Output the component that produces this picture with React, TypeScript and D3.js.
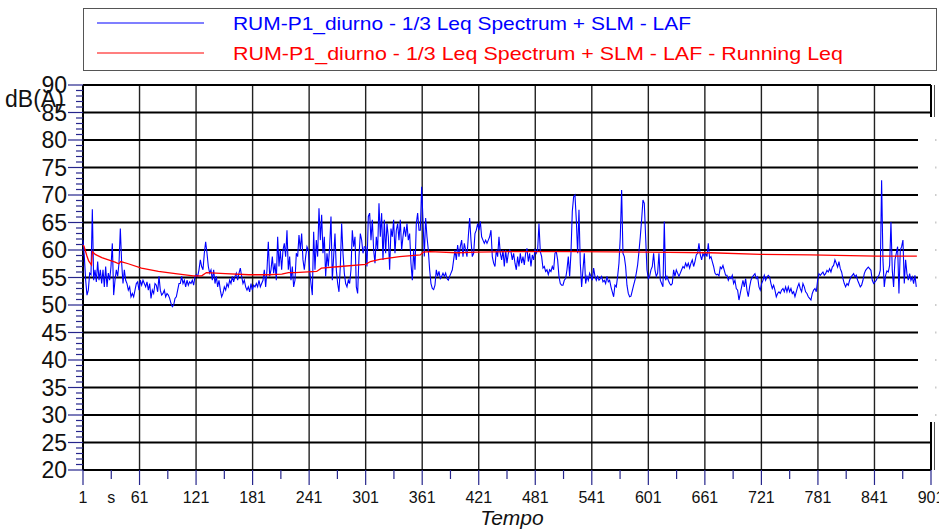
import React from "react";
import * as d3 from "d3";

// LAF samples, one every SAMPLE_STEP seconds from t = 1 s
const SAMPLE_STEP = 1.415;
const lafValues: number[] = [
  61.8, 58.8, 54.5, 51.8, 52.7, 55.8, 55.5, 67.4, 54.5, 56.4,
  54.2, 57.9, 54.5, 56.4, 53.9, 56.4, 53.3, 57.0, 53.3, 55.8,
  54.5, 57.0, 61.2, 51.8, 54.5, 56.4, 55.2, 57.6, 63.9, 57.6,
  53.9, 56.4, 54.5, 53.9, 52.7, 53.3, 51.5, 52.1, 51.5, 52.7,
  53.9, 54.2, 52.7, 54.5, 53.6, 54.5, 53.9, 53.3, 54.2, 52.7,
  53.9, 51.2, 52.7, 52.1, 53.9, 53.6, 52.4, 55.2, 52.7, 51.8,
  52.1, 52.7, 51.5, 52.1, 51.8, 51.2, 50.3, 49.7, 50.0, 51.2,
  51.5, 52.7, 53.9, 53.9, 55.2, 53.9, 54.5, 53.3, 54.5, 53.6,
  54.2, 53.9, 54.5, 53.6, 55.2, 55.5, 55.2, 56.4, 58.2, 57.0,
  56.4, 59.4, 61.5, 59.4, 57.0, 55.8, 56.4, 54.5, 56.4, 53.9,
  55.2, 53.3, 54.5, 52.7, 51.5, 52.1, 53.3, 52.7, 53.9, 53.3,
  54.5, 53.9, 55.2, 54.2, 55.2, 55.8, 54.5, 55.8, 56.7, 55.2,
  53.9, 54.5, 53.3, 52.7, 53.3, 52.4, 53.9, 52.7, 53.6, 53.3,
  53.9, 53.3, 54.5, 53.3, 53.9, 54.5, 56.4, 53.3, 56.4, 61.5,
  55.2, 56.4, 58.8, 55.8, 57.6, 54.5, 62.4, 57.0, 60.0, 56.4,
  60.0, 61.2, 58.8, 63.6, 56.4, 58.8, 54.5, 57.0, 53.3, 54.5,
  59.4, 58.8, 62.7, 60.0, 63.0, 58.2, 56.4, 58.8, 60.6, 60.0,
  56.4, 53.9, 51.8, 63.3, 56.4, 61.8, 58.8, 67.6, 61.8, 66.4,
  59.4, 62.4, 55.2, 59.4, 57.0, 60.6, 66.1, 54.5, 58.8, 63.0,
  56.4, 53.9, 52.4, 57.0, 64.8, 59.4, 55.8, 53.9, 53.3, 54.5,
  53.9, 56.4, 63.6, 60.6, 62.4, 53.3, 52.1, 58.8, 63.0, 61.8,
  59.4, 60.6, 60.6, 57.0, 66.1, 66.7, 61.8, 65.5, 60.0, 57.6,
  62.4, 60.0, 68.5, 62.4, 66.7, 58.2, 65.5, 59.4, 64.8, 62.4,
  56.4, 63.9, 62.4, 65.5, 59.4, 63.6, 64.8, 61.8, 65.5, 60.0,
  62.4, 64.2, 62.4, 64.8, 61.8, 63.0, 57.6, 54.5, 60.0, 56.4,
  64.8, 66.7, 63.6, 63.6, 71.5, 65.5, 58.8, 65.8, 62.4, 60.0,
  56.4, 53.9, 53.0, 52.8, 53.6, 56.4, 55.2, 56.1, 54.8, 55.2,
  55.8, 55.2, 55.8, 54.8, 54.5, 55.2, 55.8, 56.4, 58.2, 60.0,
  58.2, 60.9, 58.8, 60.6, 61.8, 58.8, 61.2, 60.0, 58.8, 62.4,
  65.8, 61.8, 58.8, 59.4, 63.0, 63.6, 64.8, 63.6, 65.2, 62.4,
  61.8, 61.2, 61.8, 61.2, 61.8, 62.4, 63.6, 58.8, 57.6, 57.0,
  60.0, 58.8, 62.4, 59.4, 58.2, 60.0, 57.0, 60.0, 57.6, 59.4,
  60.0, 59.7,
  58.2, 59.4, 57.6, 56.4, 58.8, 57.0, 59.4, 57.6, 58.8, 57.3,
  59.4, 60.3, 57.9, 59.4, 57.0, 59.1, 58.2, 60.0, 59.4, 60.0,
  64.8, 59.7, 58.8, 56.7, 57.0, 56.1, 56.4, 55.5, 56.4, 56.1,
  57.0, 56.4, 59.4, 59.7, 58.2, 55.2, 53.9, 53.6, 53.6, 54.5,
  54.8, 56.4, 58.8, 55.2, 59.4, 67.0, 69.7, 70.0, 65.5, 59.4,
  67.3, 57.6, 53.3, 56.4, 59.4, 53.9, 55.2, 54.5, 55.8, 55.2,
  54.5, 56.7, 55.2, 54.5, 55.2, 54.5, 54.8, 55.2, 54.2, 54.5,
  53.9, 55.2, 54.2, 54.5, 53.3, 52.4, 51.5, 53.6, 53.3, 55.2,
  57.6, 62.4, 70.9, 59.4, 58.8, 57.0, 53.6, 52.1, 51.5, 51.6,
  52.6, 53.6, 54.5, 55.8, 57.3, 59.7, 62.4, 65.5, 69.1, 68.5,
  62.4, 56.4, 54.8, 55.2, 56.4, 57.0, 59.4, 56.4, 55.2, 55.8,
  59.4, 54.5, 53.9, 53.3, 65.2, 54.5, 55.2, 54.5, 53.9, 53.6,
  53.9, 56.4, 55.2, 56.4, 55.8, 55.2, 55.8, 56.4, 57.0, 56.7,
  57.6, 57.0, 57.6, 56.7, 57.6, 58.2, 57.0, 57.9, 59.1, 59.4,
  61.2, 59.1, 58.2, 59.4, 58.8, 59.4, 58.8, 61.2, 58.5, 58.8,
  57.9, 57.0, 55.8, 55.5, 55.6, 55.3,
  56.9, 56.6, 57.2, 56.3, 55.4, 55.4, 54.5, 55.1, 54.8, 55.4,
  53.9, 54.5, 53.0, 52.7, 50.9, 52.1, 53.3, 54.5, 53.3, 54.8,
  52.7, 51.5, 53.3, 54.5, 55.1, 55.4, 55.7, 54.8, 55.1, 53.3,
  52.7, 53.9, 54.5, 55.4, 54.5, 55.1, 55.4, 55.1, 53.9, 53.0,
  53.6, 52.7, 51.5, 52.1, 52.4, 52.1, 52.7, 53.0, 52.4, 53.3,
  52.4, 53.3, 52.4, 53.0, 52.1, 52.4, 51.5, 52.4, 53.3, 53.9,
  53.0, 52.4, 53.9, 53.3, 52.4, 52.1, 51.5, 51.2, 50.9, 52.1,
  52.7, 53.0, 52.4, 54.5, 55.7, 55.4, 55.7, 56.0, 55.4, 55.7,
  56.3, 56.0, 56.6, 56.0, 56.9, 57.2, 58.2, 57.6, 56.9, 57.9,
  56.6, 56.0, 54.8, 53.9, 53.3, 53.9, 53.6, 54.5, 55.1, 55.4,
  55.7, 55.1, 55.4, 54.5, 53.9, 53.3, 53.6, 54.5, 55.7, 56.3,
  56.6, 56.9, 56.6, 56.3, 54.5, 53.9, 54.2, 54.5, 55.1, 55.4,
  56.3, 72.7, 58.2, 53.3, 55.4, 56.2, 56.0, 57.2, 65.1, 56.3,
  53.3, 58.2, 59.4, 60.6, 52.1, 60.0, 60.6, 61.8, 53.9, 58.2,
  55.7, 54.5, 55.7, 54.5, 55.1, 53.9, 55.4, 53.3,
];

// Running Leq read at irregular times
const runningTimes = [
  1, 2, 5, 7, 10, 11, 14, 21, 28, 35, 39, 41, 49, 63, 81, 99, 118, 127, 132,
  152, 177, 198, 212, 219, 226, 249, 254, 274, 301, 306, 316, 337, 359, 362,
  369, 398, 419, 454, 520, 600, 667, 720, 773, 843, 886,
];
const runningLeq = [
  60.9, 60.7, 59.0, 58.0, 57.3, 59.7, 59.2, 58.6, 58.2, 57.8, 57.5, 57.9, 57.5,
  56.7, 56.1, 55.7, 55.3, 55.3, 55.9, 55.7, 55.5, 55.5, 55.6, 55.9, 55.9, 56.1,
  56.7, 57.0, 57.4, 57.9, 58.3, 58.8, 59.1, 59.6, 59.7, 59.5, 59.6, 59.7, 59.7,
  59.6, 59.5, 59.2, 59.1, 58.9, 58.9,
];

const yTicks = [20, 25, 30, 35, 40, 45, 50, 55, 60, 65, 70, 75, 80, 85, 90];
const xTicks = [1, 61, 121, 181, 241, 301, 361, 421, 481, 541, 601, 661, 721, 781, 841, 901];
const xMinor = [31, 91, 151, 211, 271, 331, 391, 451, 511, 571, 631, 691, 751, 811, 871];
const seriesNames = [
  "RUM-P1_diurno - 1/3 Leq Spectrum + SLM - LAF",
  "RUM-P1_diurno - 1/3 Leq Spectrum + SLM - LAF - Running Leq",
];
const seriesColors = ["#0000ff", "#ff0000"];

const W = 939;
const H = 532;
const left = 83;
const right = 931;
const top = 85;
const bottom = 470;
const font = "'Liberation Sans', Arial, Helvetica, sans-serif";
const tickColor = "#26268c";

export default function App() {
  const x = d3.scaleLinear().domain([1, 901]).range([left, right]);
  const y = d3.scaleLinear().domain([20, 90]).range([bottom, top]);

  const lafPts = lafValues.map((v, i) => ({ t: 1 + i * SAMPLE_STEP, v }));
  const runPts = runningTimes.map((t, i) => ({ t, v: runningLeq[i] }));
  const line = d3
    .line<{ t: number; v: number }>()
    .x((d) => x(d.t))
    .y((d) => y(d.v));

  const yMinor = d3.range(20, 91, 1).filter((v) => v % 5 !== 0);

  return (
    <svg
      width={W}
      height={H}
      style={{ position: "absolute", left: 0, top: 0, background: "#fff" }}
      fontFamily={font}
    >
      {/* legend */}
      <rect x={83.5} y={8.5} width={853} height={62} fill="none" stroke="#555" />
      {seriesNames.map((name, i) => (
        <g key={name}>
          <line x1={97} x2={204} y1={23 + i * 30} y2={23 + i * 30} stroke={seriesColors[i]} strokeWidth={1.2} />
          <text x={233} y={29.5 + i * 30} fontSize={19} fill={seriesColors[i]} textLength={i === 0 ? 458 : 610} lengthAdjust="spacingAndGlyphs">
            {name}
          </text>
        </g>
      ))}

      {/* grid */}
      {xTicks.slice(1, -1).map((t) => (
        <line key={t} x1={x(t)} x2={x(t)} y1={top} y2={bottom} stroke="#222" strokeWidth={1.4} />
      ))}
      {yTicks.map((v) => (
        <line key={v} x1={left} x2={right} y1={y(v)} y2={y(v)} stroke="#000" strokeWidth={2.2} />
      ))}
      <line x1={left} x2={left} y1={top} y2={bottom} stroke="#000" strokeWidth={2} />
      <line x1={right} x2={right} y1={top} y2={bottom} stroke="#000" strokeWidth={2} />
      <line x1={right + 3.5} x2={right + 3.5} y1={top} y2={bottom} stroke="#555" strokeWidth={1} />

      {/* blank strip on the right */}
      <rect x={918} y={117} width={21} height={305} fill="#fff" />
      {yTicks
        .filter((v) => y(v) > 117 && y(v) < 422)
        .map((v) => (
          <rect key={v} x={935} y={y(v) - 1} width={1.5} height={2} fill="#ccc" />
        ))}

      {/* y axis */}
      {yMinor.map((v) => (
        <line key={v} x1={76} x2={left} y1={y(v)} y2={y(v)} stroke={tickColor} strokeWidth={1.2} />
      ))}
      {yTicks.map((v) => (
        <g key={v}>
          <line x1={68} x2={left} y1={y(v)} y2={y(v)} stroke={tickColor} strokeWidth={1.2} />
          <text x={67} y={y(v)} dy="0.36em" textAnchor="end" fontSize={23} fill="#111">
            {v}
          </text>
        </g>
      ))}
      <text x={5} y={107} fontSize={23} fill="#111">dB(A)</text>

      {/* x axis */}
      {xMinor.map((t) => (
        <line key={t} x1={x(t)} x2={x(t)} y1={bottom} y2={479} stroke={tickColor} strokeWidth={1.2} />
      ))}
      {xTicks.map((t) => (
        <g key={t}>
          <line x1={x(t)} x2={x(t)} y1={bottom} y2={485} stroke={tickColor} strokeWidth={1.2} />
          <text x={x(t)} y={503} textAnchor="middle" fontSize={16} fill="#111">
            {t}
          </text>
        </g>
      ))}
      <text x={x(xMinor[0])} y={503} textAnchor="middle" fontSize={16} fill="#111">s</text>
      <text x={512} y={525} textAnchor="middle" fontSize={21} fontStyle="italic" fill="#111">
        Tempo
      </text>

      {/* series */}
      <path d={line(lafPts) || ""} fill="none" stroke={seriesColors[0]} strokeWidth={1.1} />
      <path d={line(runPts) || ""} fill="none" stroke={seriesColors[1]} strokeWidth={1.3} />
    </svg>
  );
}
